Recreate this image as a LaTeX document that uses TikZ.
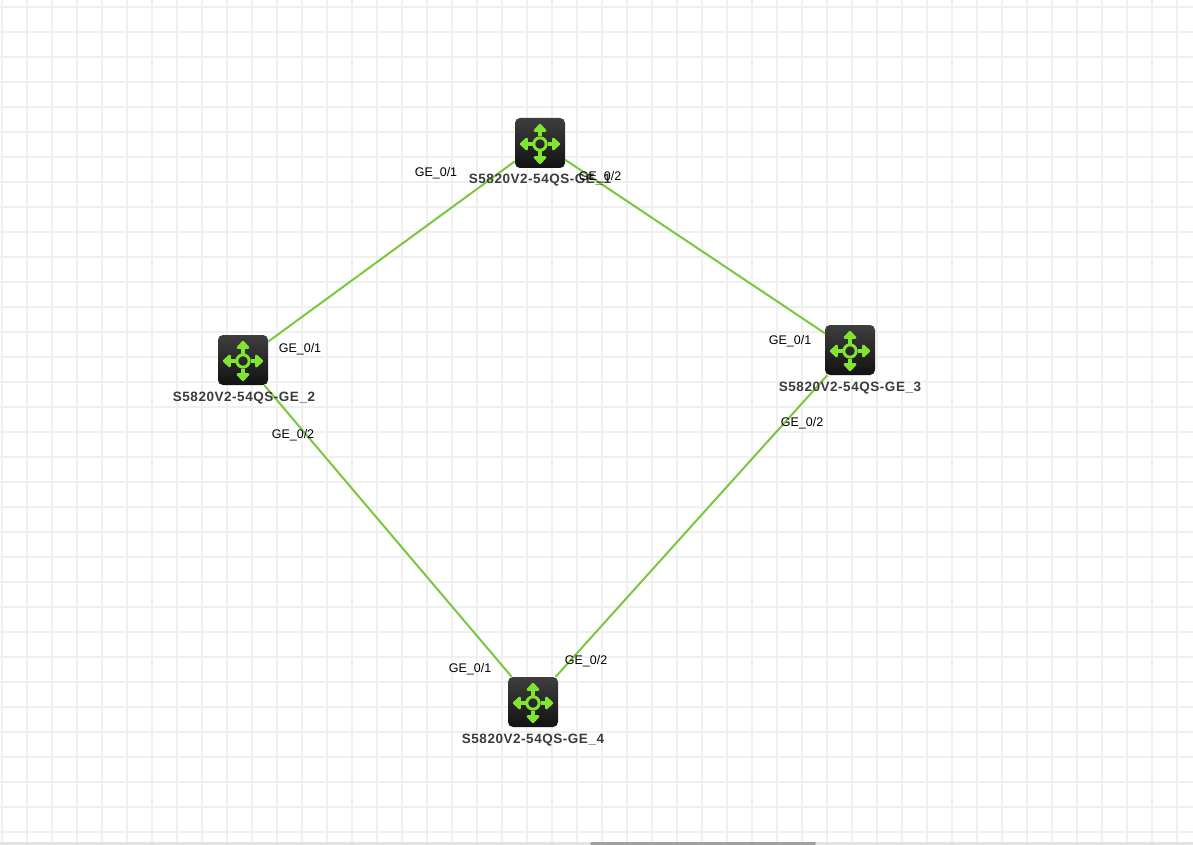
\documentclass[tikz,border=0pt]{standalone}
\usepackage{fontspec}
\setmainfont{Liberation Sans}
\definecolor{gridc}{RGB}{240,240,240}
\definecolor{linkc}{RGB}{122,200,64}
\definecolor{icong}{RGB}{128,228,48}
\definecolor{icontop}{RGB}{62,62,62}
\definecolor{iconbot}{RGB}{18,18,18}
\definecolor{lblc}{RGB}{60,60,60}
\definecolor{barc}{RGB}{228,228,228}
\definecolor{thumbc}{RGB}{160,160,160}
\tikzset{
  switchbox/.style={minimum width=50pt, minimum height=50pt, inner sep=0pt, rounded corners=5pt, top color=icontop, bottom color=iconbot, draw=none},
  devlabel/.style={text=lblc, font=\fontsize{13.5}{16}\selectfont\bfseries\addfontfeatures{LetterSpace=4}, inner sep=0pt},
  portlabel/.style={text=black, font=\fontsize{12.5}{15}\selectfont, inner sep=0pt},
  link/.style={draw=linkc, line width=2pt},
  gridline/.style={draw=gridc, line width=2pt},
  pics/swsym/.style={code={
    \draw[icong, line width=3pt] (0,0) circle (6.2);
    \foreach \r in {0,90,180,270}{
      \begin{scope}[rotate=\r]
        \draw[icong, line width=3.2pt] (0,7.5) -- (0,14);
        \draw[icong, line width=2.4pt, line join=round, fill=icong] (0,19) -- (-5.2,13.4) -- (5.2,13.4) -- cycle;
      \end{scope}
    }
  }}
}
\begin{document}
\begin{tikzpicture}[x=1pt, y=-1pt]
\useasboundingbox (0,0) rectangle (1193,845);
\fill[white] (0,0) rectangle (1193,845);
% grid
\foreach \i in {0,...,47} { \draw[gridline] ({2+25*\i},0) -- ({2+25*\i},842); }
\foreach \j in {0,...,33} { \draw[gridline] (0,{7+25*\j}) -- (1193,{7+25*\j}); }
% scrollbar
\fill[barc] (0,842) rectangle (1193,845);
\fill[thumbc, rounded corners=1.5pt] (590,842) rectangle (816,845);
% switches
\node[switchbox] (s1) at (540,143) {};
\node[switchbox] (s2) at (243,360) {};
\node[switchbox] (s3) at (850,350) {};
\node[switchbox] (s4) at (533,702) {};
\foreach \n in {s1,s2,s3,s4} { \pic at ([yshift=-1pt]\n.center) {swsym}; }
% links
\draw[link] (s2) -- (s1);
\draw[link] (s1) -- (s3);
\draw[link] (s2) -- (s4);
\draw[link] (s3) -- (s4);
% device labels
\node[devlabel] (l1) at (540,180) {S5820V2-54QS-GE\_1};
\node[devlabel] (l2) at (244,398) {S5820V2-54QS-GE\_2};
\node[devlabel] (l3) at (850,388) {S5820V2-54QS-GE\_3};
\node[devlabel] (l4) at (533,740) {S5820V2-54QS-GE\_4};
% port labels
\node[portlabel] (p11) at (436,173) {GE\_0/1};
\node[portlabel] (p12) at (600,177) {GE\_0/2};
\node[portlabel] (p21) at (300,349) {GE\_0/1};
\node[portlabel] (p22) at (293,435) {GE\_0/2};
\node[portlabel] (p31) at (790,341) {GE\_0/1};
\node[portlabel] (p32) at (802,423) {GE\_0/2};
\node[portlabel] (p41) at (470,669) {GE\_0/1};
\node[portlabel] (p42) at (586,661) {GE\_0/2};
\end{tikzpicture}
\end{document}
